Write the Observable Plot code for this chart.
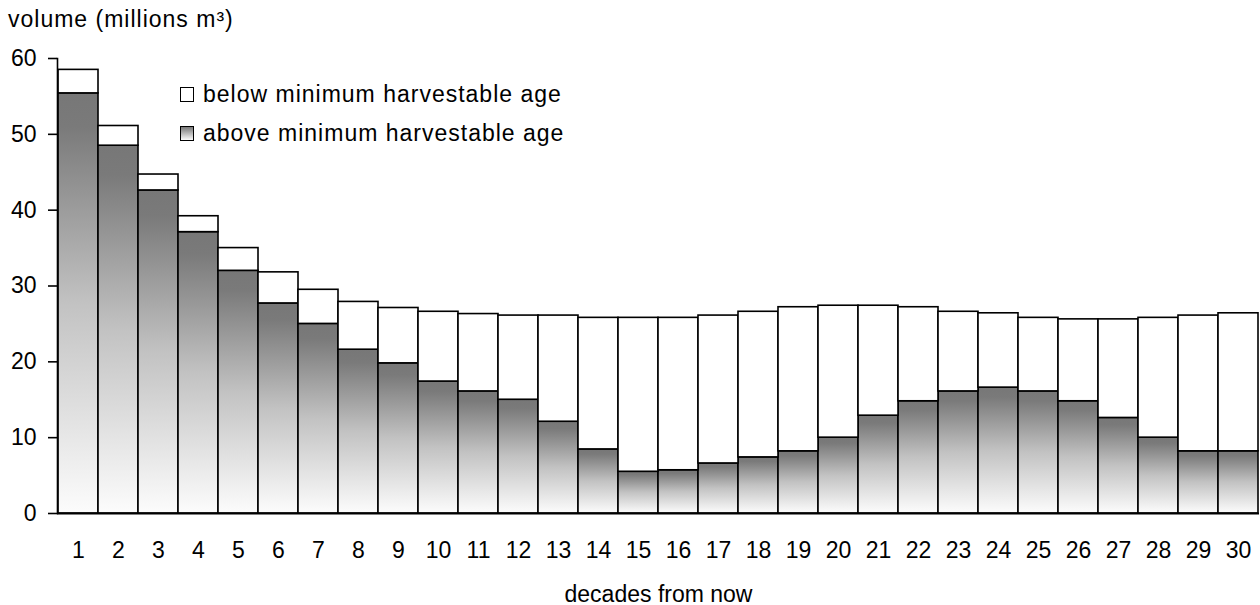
<!DOCTYPE html>
<html><head><meta charset="utf-8">
<script src="https://cdn.jsdelivr.net/npm/d3@7"></script>
<script src="https://cdn.jsdelivr.net/npm/@observablehq/plot@0.6"></script>
<style>
body{margin:0;background:#fff;}
#wrap{position:relative;width:1260px;height:605px;font-family:"Liberation Sans",Arial,sans-serif;color:#000;}
#title{position:absolute;left:8px;top:8px;font-size:23px;line-height:23px;letter-spacing:1px;white-space:nowrap;}
.leg{position:absolute;left:180px;height:26px;font-size:23px;line-height:26px;letter-spacing:1px;display:flex;align-items:center;white-space:nowrap;}
.sw{box-sizing:border-box;width:14px;height:15px;border:1.5px solid #000;margin-right:9px;}
#wrap svg{position:absolute;left:0;top:0;}
</style></head>
<body><div id="wrap"></div>
<script>
const decades = d3.range(1, 31);
const total = [58.5, 51.1, 44.7, 39.2, 35.0, 31.8, 29.5, 27.9, 27.1, 26.6, 26.3, 26.1, 26.1, 25.8, 25.8, 25.8, 26.1, 26.6, 27.2, 27.4, 27.4, 27.2, 26.6, 26.4, 25.8, 25.6, 25.6, 25.8, 26.1, 26.4];
const above = [55.4, 48.5, 42.6, 37.1, 32.0, 27.7, 25.0, 21.6, 19.8, 17.4, 16.1, 15.0, 12.1, 8.45, 5.5, 5.7, 6.6, 7.4, 8.2, 10.0, 12.9, 14.8, 16.1, 16.6, 16.1, 14.8, 12.6, 10.0, 8.2, 8.2];
const yTicks = [0, 10, 20, 30, 40, 50, 60];
const seriesNames = ["below minimum harvestable age", "above minimum harvestable age"];
const titleText = "volume (millions m³)";
const xLabel = "decades from now";

const data = decades.map((d, i) => ({decade: d, total: total[i], above: above[i]}));

const chart = Plot.plot({
  width: 1260, height: 605,
  marginLeft: 57, marginRight: 1, marginTop: 58, marginBottom: 92,
  style: {fontFamily: "'Liberation Sans', Arial, sans-serif", fontSize: "23px", color: "#000", background: "transparent", overflow: "visible"},
  x: {type: "band", domain: decades, padding: 0, label: null},
  y: {domain: [0, 60], label: null},
  marks: [
    Plot.barY(data, {x: "decade", y1: 0, y2: "above", fill: "url(#aboveGrad)", stroke: "#000", strokeWidth: 1.6}),
    Plot.barY(data, {x: "decade", y1: "above", y2: "total", fill: "#fff", stroke: "#000", strokeWidth: 1.6}),
    Plot.ruleY([0], {stroke: "#000", strokeWidth: 1.8}),
    Plot.frame({anchor: "left", stroke: "#000", strokeWidth: 1.6}),
    Plot.axisY({ticks: yTicks, tickSize: 9, tickPadding: 12, tickFormat: d3.format("d"), label: null, stroke: "#000", strokeWidth: 1.6, strokeOpacity: 1}),
    Plot.axisX({tickSize: 0, tickPadding: 28, label: null}),
    Plot.text([xLabel], {frameAnchor: "bottom", dy: 81, lineAnchor: "middle", fontSize: 23})
  ]
});

const svgNS = "http://www.w3.org/2000/svg";
const defs = document.createElementNS(svgNS, "defs");
defs.innerHTML = `<linearGradient id="aboveGrad" x1="0" y1="0" x2="0" y2="1">
  <stop offset="0" stop-color="#777777"/>
  <stop offset="0.08" stop-color="#7a7a7a"/>
  <stop offset="0.5" stop-color="#c2c2c2"/>
  <stop offset="1" stop-color="#fcfcfc"/>
</linearGradient>`;
chart.insertBefore(defs, chart.firstChild);

const wrap = document.getElementById("wrap");
wrap.appendChild(chart);

const t = document.createElement("div");
t.id = "title"; t.textContent = titleText;
wrap.appendChild(t);

const swFills = ["#fff", "linear-gradient(#777777, #fcfcfc)"];
const legTops = [81, 120];
seriesNames.forEach((name, i) => {
  const row = document.createElement("div");
  row.className = "leg";
  row.style.top = legTops[i] + "px";
  const sw = document.createElement("div");
  sw.className = "sw";
  sw.style.background = swFills[i];
  const lab = document.createElement("span");
  lab.textContent = name;
  row.appendChild(sw); row.appendChild(lab);
  wrap.appendChild(row);
});
</script>
</body></html>
